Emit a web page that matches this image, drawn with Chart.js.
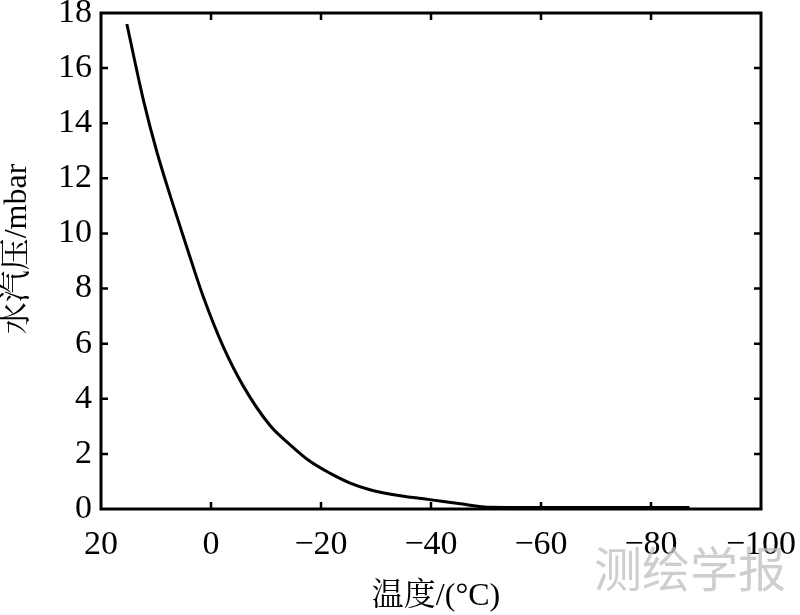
<!DOCTYPE html>
<html>
<head>
<meta charset="utf-8">
<script src="https://cdn.jsdelivr.net/npm/chart.js@4"></script>
<style>
  html, body { margin: 0; padding: 0; background: #fff; }
  #wrap { position: relative; width: 800px; height: 615px; }
  #wm {
    position: absolute; left: 594px; top: 531px;
    font-family: "Noto Sans CJK SC", sans-serif; font-size: 48px;
    color: rgba(190,190,190,0.75); pointer-events: none;
  }
</style>
</head>
<body>
<div id="wrap">
  <canvas id="grafico" width="800" height="615"></canvas>
  <div id="wm">测绘学报</div>
</div>
<script>
/* dados */
const temperatura = [15.3, 12.3, 9.9, 7.15, 4.4, 1.4, -2.2, -5.9, -10.7, -14.4, -18.0, -21.6, -25.3, -28.9, -34.4, -39.8, -45, -51, -60, -70, -80, -87];
const pressao     = [17.6, 14.85, 13.0, 11.2, 9.5, 7.7, 5.9, 4.45, 3.04, 2.33, 1.73, 1.30, 0.94, 0.70, 0.48, 0.34, 0.2, 0.06, 0.05, 0.05, 0.05, 0.05];
const xTicks = [20, 0, -20, -40, -60, -80, -100];
const yTicks = [0, 2, 4, 6, 8, 10, 12, 14, 16, 18];

const tituloX = "温度/(°C)";
const tituloY = "水汽压/mbar";

const FONTE = '"Liberation Serif", "Noto Serif CJK SC", "Noto Sans CJK SC", serif';

function fmtNum(v) {
  return v < 0 ? "\u2212" + Math.abs(v) : String(v);
}

// tamanho fixo do eixo, sem padding automático dos rótulos
function fixa(s, prop, val) {
  s[prop] = val;
  s.paddingTop = s.paddingBottom = s.paddingLeft = s.paddingRight = 0;
}

/* moldura, ticks internos e títulos */
const molduraPlugin = {
  id: "moldura",
  afterDraw(chart) {
    const { ctx, chartArea: a, scales } = chart;
    const sx = scales.x, sy = scales.y;
    const len = 7;
    ctx.save();
    ctx.strokeStyle = "#000";
    ctx.lineWidth = 2.5;
    xTicks.forEach(v => {
      if (v === 20 || v === -100) return;
      const px = sx.getPixelForValue(v);
      ctx.beginPath();
      ctx.moveTo(px, a.bottom); ctx.lineTo(px, a.bottom - len);
      ctx.moveTo(px, a.top); ctx.lineTo(px, a.top + len);
      ctx.stroke();
    });
    yTicks.forEach(v => {
      if (v === 0 || v === 18) return;
      const py = sy.getPixelForValue(v);
      ctx.beginPath();
      ctx.moveTo(a.left, py); ctx.lineTo(a.left + len, py);
      ctx.moveTo(a.right, py); ctx.lineTo(a.right - len, py);
      ctx.stroke();
    });
    ctx.lineWidth = 3;
    ctx.strokeRect(a.left, a.top, a.right - a.left, a.bottom - a.top);

    ctx.fillStyle = "#000";
    ctx.font = "32px " + FONTE;
    ctx.textAlign = "center";
    ctx.textBaseline = "middle";
    ctx.fillText(tituloX, (a.left + a.right) / 2 + 5, 597);
    ctx.translate(18, 249);
    ctx.rotate(-Math.PI / 2);
    ctx.fillText(tituloY, 0, 0);
    ctx.restore();
  }
};

const ctx = document.getElementById("grafico").getContext("2d");
new Chart(ctx, {
  type: "line",
  data: {
    datasets: [{
      data: temperatura.map((t, i) => ({ x: t, y: pressao[i] })),
      borderColor: "#000",
      borderWidth: 3,
      pointRadius: 0,
      cubicInterpolationMode: "monotone",
      fill: false,
      clip: 10
    }]
  },
  options: {
    responsive: false,
    animation: false,
    layout: { padding: { top: 13, right: 39, left: 0, bottom: 0 } },
    plugins: { legend: { display: false }, tooltip: { enabled: false } },
    scales: {
      x: {
        type: "linear",
        reverse: true,
        min: -100,
        max: 20,
        afterFit: s => fixa(s, "height", 106),
        afterBuildTicks: s => { s.ticks = xTicks.map(v => ({ value: v })); },
        grid: { display: false, drawTicks: false },
        border: { display: false },
        ticks: {
          color: "#000",
          padding: 16,
          maxRotation: 0,
          font: { family: FONTE, size: 34 },
          callback: fmtNum
        }
      },
      y: {
        min: 0,
        max: 18,
        afterFit: s => fixa(s, "width", 101),
        afterBuildTicks: s => { s.ticks = yTicks.map(v => ({ value: v })); },
        grid: { display: false, drawTicks: false },
        border: { display: false },
        ticks: {
          color: "#000",
          padding: 9,
          font: { family: FONTE, size: 34 },
          callback: fmtNum
        }
      }
    }
  },
  plugins: [molduraPlugin]
});
</script>
</body>
</html>
